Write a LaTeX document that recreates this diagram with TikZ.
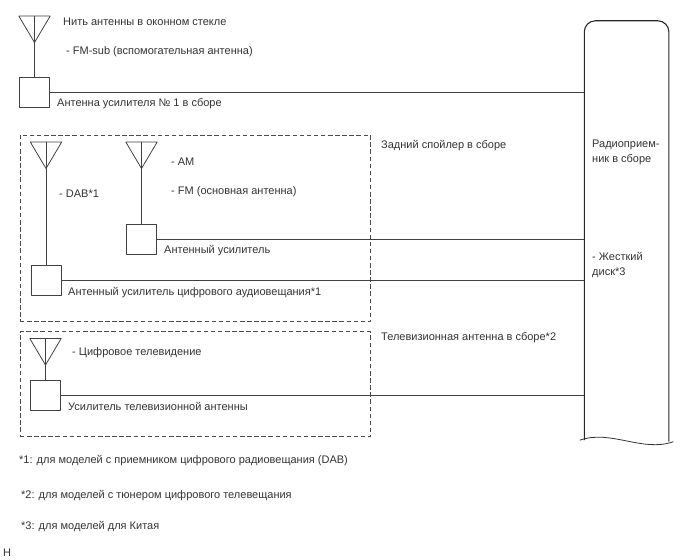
\documentclass[tikz,border=0pt]{standalone}
\usetikzlibrary{calc}
\usepackage{fontspec}
\setmainfont{Liberation Sans}
\tikzset{
  wire/.style={line width=0.8bp,black!75},
  ampbox/.style={draw,line width=0.8bp,black!75,minimum size=30bp,inner sep=0pt},
  lbl/.style={anchor=west,yshift=-1.7bp,inner sep=0pt,font=\fontsize{11bp}{15bp}\selectfont,text=black!80,align=left},
  groupbox/.style={draw,line width=0.8bp,black!70,dash pattern=on 4.5bp off 2.6bp,inner sep=0pt},
  antenna/.pic={
    \coordinate (-top) at (0bp,0bp);
    \coordinate (-tip) at (0bp,-26.5bp);
    \draw [wire] (-15.7bp,0bp) -- (15.7bp,0bp) -- (-tip) -- cycle;
  },
}
\begin{document}
\begin{tikzpicture}[line join=bevel]
  \useasboundingbox (0bp,0bp) rectangle (688bp,560bp);
  % Node: radio
  \node (radio) [minimum width=84.2bp,minimum height=419bp,inner sep=0pt] at (626.6bp,329.5bp) {};
  \draw [line width=1.1bp,black!85] (radio.south west) -- ([yshift=-11bp]radio.north west)
    .. controls ([yshift=-5bp]radio.north west) and ([xshift=5bp]radio.north west) .. ([xshift=11bp]radio.north west)
    -- ([xshift=-11bp]radio.north east)
    .. controls ([xshift=-5bp]radio.north east) and ([yshift=-5bp]radio.north east) .. ([yshift=-11bp]radio.north east)
    -- ([yshift=-1.5bp]radio.south east);
  \coordinate (cut_a) at ([xshift=-4.5bp]radio.south west);
  \coordinate (cut_b) at ([xshift=4.5bp,yshift=-1.5bp]radio.south east);
  \draw [line width=0.8bp,black!80] (cut_a) .. controls ($(cut_a)+(31bp,11bp)$) and ($(cut_b)+(-31bp,-11bp)$) .. (cut_b);
  % Node: groups
  \node (spoiler) [groupbox,minimum width=350.5bp,minimum height=186.7bp] at (195.2bp,331.6bp) {};
  \node (tvgroup) [groupbox,minimum width=350.5bp,minimum height=105bp] at (195.2bp,175.7bp) {};
  % Node: amp_1
  \pic (ant1) at (34.5bp,544bp) {antenna};
  \node (amp1) [ampbox] at (34.8bp,468bp) {};
  % Node: amp_dab
  \pic (ant2) at (46bp,418bp) {antenna};
  \node (amp2) [ampbox] at (46.2bp,280bp) {};
  % Node: amp_fm
  \pic (ant3) at (141.5bp,418bp) {antenna};
  \node (amp3) [ampbox] at (141.5bp,321bp) {};
  % Node: amp_tv
  \pic (ant4) at (45.5bp,221.5bp) {antenna};
  \node (amp4) [ampbox] at (45.8bp,165bp) {};
  % Edge: ant -> amp
  \draw [wire] (ant1-top) -- (amp1.north -| ant1-top);
  \draw [wire] (ant2-top) -- (amp2.north -| ant2-top);
  \draw [wire] (ant3-top) -- (amp3.north -| ant3-top);
  \draw [wire] (ant4-top) -- (amp4.north -| ant4-top);
  % Edge: amp -> radio
  \draw [wire] (amp1.east) -- (amp1.east -| radio.west);
  \draw [wire] (amp2.east) -- (amp2.east -| radio.west);
  \draw [wire] (amp3.east) -- (amp3.east -| radio.west);
  \draw [wire] (amp4.east) -- (amp4.east -| radio.west);
  % Labels
  \node (t1) [lbl] at (63bp,540bp) {Нить антенны в оконном стекле};
  \node (t2) [lbl] at (66bp,510bp) {- FM-sub (вспомогательная антенна)};
  \node (t3) [lbl] at (57bp,458bp) {Антенна усилителя № 1 в сборе};
  \node (t4) [lbl] at (381bp,416bp) {Задний спойлер в сборе};
  \node (t5) [lbl] at (592bp,409.5bp) {Радиоприем-\\ник в сборе};
  \node (t6) [lbl] at (171bp,400bp) {- AM};
  \node (t7) [lbl] at (171bp,370bp) {- FM (основная антенна)};
  \node (t8) [lbl] at (59bp,368bp) {- DAB*1};
  \node (t9) [lbl] at (164bp,311bp) {Антенный усилитель};
  \node (t10) [lbl] at (68bp,269bp) {Антенный усилитель цифрового аудиовещания*1};
  \node (t11) [lbl] at (592bp,296.5bp) {- Жесткий\\диск*3};
  \node (t12) [lbl] at (381bp,224bp) {Телевизионная антенна в сборе*2};
  \node (t13) [lbl] at (72bp,209bp) {- Цифровое телевидение};
  \node (t14) [lbl] at (68bp,155bp) {Усилитель телевизионной антенны};
  \node (n1) [lbl] at (19bp,101bp) {*1: для моделей с приемником цифрового радиовещания (DAB)};
  \node (n2) [lbl] at (21bp,66bp) {*2: для моделей с тюнером цифрового телевещания};
  \node (n3) [lbl] at (21bp,35bp) {*3: для моделей для Китая};
  \node (mark) [lbl] at (3bp,9bp) {H};
\end{tikzpicture}
\end{document}
